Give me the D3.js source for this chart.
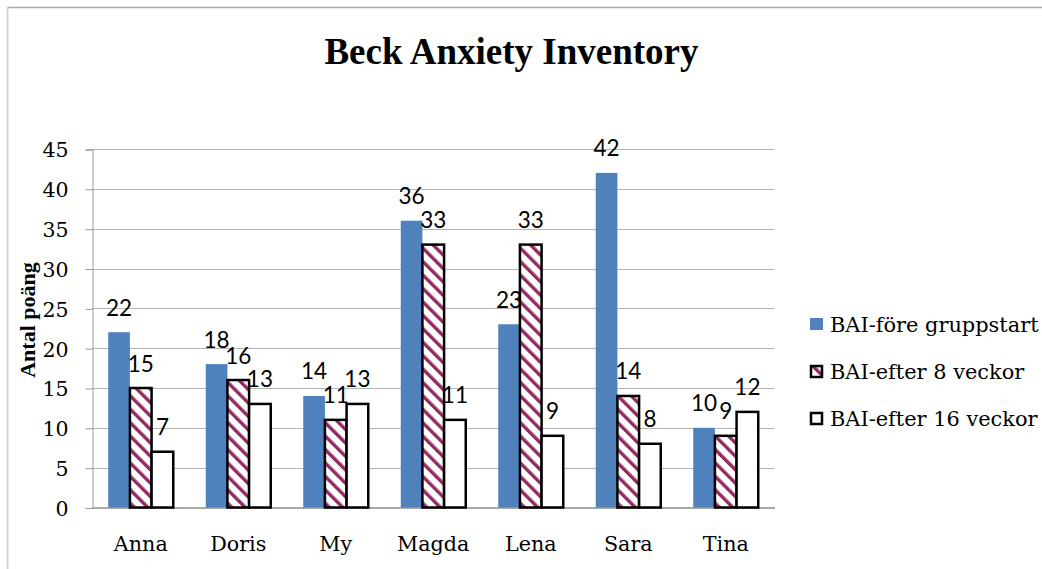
<!DOCTYPE html>
<html>
<head>
<meta charset="utf-8">
<script src="https://cdn.jsdelivr.net/npm/d3@7"></script>
<style>
  html, body { margin: 0; padding: 0; background: #fff; }
  svg { display: block; }
</style>
</head>
<body>
<svg id="chart" width="1042" height="569"></svg>
<script>
// Beck Anxiety Inventory scores per participant at three time points
const categories = ["Anna", "Doris", "My", "Magda", "Lena", "Sara", "Tina"];
const seriesNames = ["BAI-före gruppstart", "BAI-efter 8 veckor", "BAI-efter 16 veckor"];
const beforeStart = [22, 18, 14, 36, 23, 42, 10];
const after8Weeks = [15, 16, 11, 33, 33, 14, 9];
const after16Weeks = [7, 13, 13, 11, 9, 8, 12];
const yTicks = [0, 5, 10, 15, 20, 25, 30, 35, 40, 45];

const seriesValues = [beforeStart, after8Weeks, after16Weeks];

const svg = d3.select("#chart");
const W = 1042, H = 569;
const plot = { left: 92, right: 774.5, top: 149, bottom: 507.5 };

const serif = "'DejaVu Serif', serif";
const titleSerif = "'Liberation Serif', 'Times New Roman', serif";
const sans = "Lato, 'Liberation Sans', sans-serif";

// chart frame (top and left edges visible)
svg.append("line").attr("x1", 7).attr("x2", W).attr("y1", 7.5).attr("y2", 7.5)
  .attr("stroke", "#a8a8a8").attr("stroke-width", 1.5);
svg.append("line").attr("x1", 7.5).attr("x2", 7.5).attr("y1", 7).attr("y2", H)
  .attr("stroke", "#d2d2d2").attr("stroke-width", 2);

// hatch pattern for the 8-week series
const defs = svg.append("defs");
const pat = defs.append("pattern")
  .attr("id", "hatch")
  .attr("patternUnits", "userSpaceOnUse")
  .attr("width", 9.5).attr("height", 9.5)
  .attr("patternTransform", "rotate(-45)");
pat.append("rect").attr("width", 9.5).attr("height", 9.5).attr("fill", "#fff");
pat.append("rect").attr("x", 0).attr("width", 3.4).attr("height", 9.5).attr("fill", "#932b62");

const x0 = d3.scaleBand().domain(categories).range([plot.left, plot.right]).paddingInner(0).paddingOuter(0);
const groupFrac = 65 / 97.5;
const x1 = d3.scaleBand().domain(d3.range(3))
  .range([0, x0.bandwidth() * groupFrac]);
const groupOffset = x0.bandwidth() * (1 - groupFrac) / 2;

const y = d3.scaleLinear().domain([0, 45]).range([plot.bottom, plot.top]);

// gridlines
svg.append("g").selectAll("line").data(yTicks.filter(t => t > 0)).join("line")
  .attr("x1", plot.left).attr("x2", plot.right)
  .attr("y1", d => Math.round(y(d)) + 0.5).attr("y2", d => Math.round(y(d)) + 0.5)
  .attr("stroke", "#b4b4b4").attr("stroke-width", 1);

// y axis
const yAxis = d3.axisLeft(y).tickValues(yTicks).tickSize(7).tickPadding(17);
const gy = svg.append("g").attr("transform", `translate(${plot.left + 0.5},0.5)`).call(yAxis);
gy.select(".domain").attr("stroke", "#999");
gy.selectAll(".tick line").attr("stroke", "#999");
gy.selectAll(".tick text")
  .attr("font-family", serif).attr("font-size", 20.5).attr("fill", "#000")
  .attr("dy", "0.36em");

// x axis
const xAxis = d3.axisBottom(x0).tickSize(0).tickPadding(29);
const gx = svg.append("g").attr("transform", `translate(0,${plot.bottom})`).call(xAxis);
gx.select(".domain").attr("stroke", "#8c8c8c").attr("stroke-width", 1.3);
gx.selectAll(".tick text")
  .attr("font-family", serif).attr("font-size", 20.7).attr("fill", "#000");

// bars
const fills = ["#4f81bd", "url(#hatch)", "#ffffff"];
const strokes = ["none", "#000", "#000"];
const groups = svg.append("g").selectAll("g").data(categories).join("g")
  .attr("transform", d => `translate(${x0(d) + groupOffset},0)`);

groups.selectAll("rect")
  .data((d, i) => seriesValues.map((vals, s) => ({ s, v: vals[i] })))
  .join("rect")
  .attr("x", d => x1(d.s))
  .attr("y", d => y(d.v))
  .attr("width", x1.bandwidth())
  .attr("height", d => y(0) - y(d.v))
  .attr("fill", d => fills[d.s])
  .attr("stroke", d => strokes[d.s])
  .attr("stroke-width", 2.5);

// value labels
groups.selectAll("text.val")
  .data((d, i) => seriesValues.map((vals, s) => ({ s, v: vals[i] })))
  .join("text")
  .attr("class", "val")
  .attr("x", d => x1(d.s) + x1.bandwidth() / 2)
  .attr("y", d => y(d.v) - 16.5)
  .attr("text-anchor", "middle")
  .attr("font-family", sans).attr("font-size", 22.5).attr("fill", "#000")
  .text(d => d.v);

// title
svg.append("text")
  .attr("x", 511.5).attr("y", 64)
  .attr("text-anchor", "middle")
  .attr("font-family", titleSerif).attr("font-weight", "bold").attr("font-size", 37)
  .attr("fill", "#000")
  .text("Beck Anxiety Inventory");

// y axis title
svg.append("text")
  .attr("transform", "translate(35,320) rotate(-90)")
  .attr("text-anchor", "middle")
  .attr("font-family", titleSerif).attr("font-weight", "bold").attr("font-size", 22)
  .attr("fill", "#000")
  .text("Antal poäng");

// legend
const legend = svg.append("g").selectAll("g").data(seriesNames).join("g")
  .attr("transform", (d, i) => `translate(810,${332 + i * 47})`);
legend.append("rect")
  .attr("x", (d, i) => i ? 1 : 0)
  .attr("y", (d, i) => i ? -13 : -14)
  .attr("width", (d, i) => i ? 11 : 13)
  .attr("height", (d, i) => i ? 11 : 12)
  .attr("fill", (d, i) => fills[i])
  .attr("stroke", (d, i) => strokes[i])
  .attr("stroke-width", 2.5);
legend.append("text")
  .attr("x", 20).attr("y", 0)
  .attr("font-family", serif).attr("font-size", 20.9).attr("fill", "#000")
  .text(d => d);
</script>
</body>
</html>
